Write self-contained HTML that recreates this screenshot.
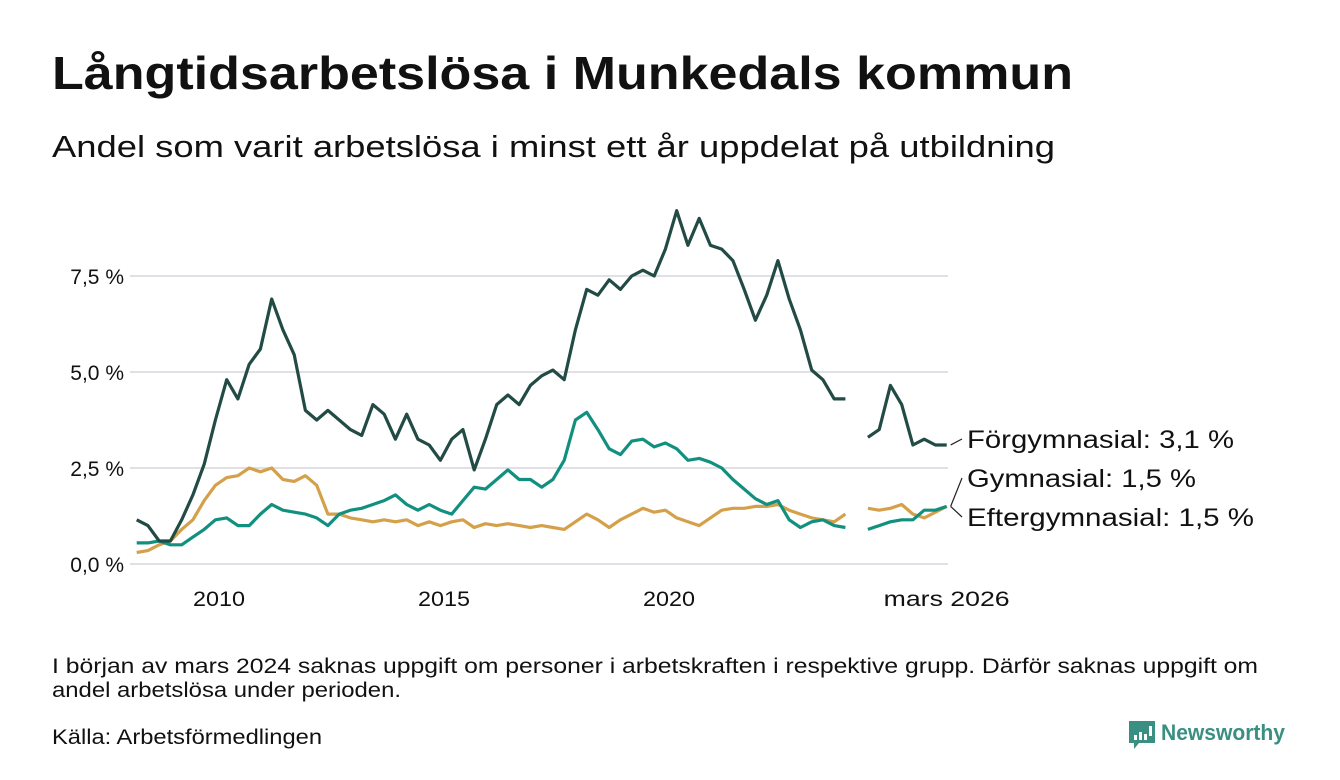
<!DOCTYPE html>
<html><head><meta charset="utf-8"><style>
body{margin:0;background:#fff;width:1340px;height:780px;overflow:hidden;font-family:"Liberation Sans",sans-serif;color:#111}
svg{position:absolute;left:0;top:0}
</style></head><body>
<svg id="c" width="1340" height="780">
<text x="52" y="89" font-size="46" font-weight="bold" fill="#111" textLength="1021" lengthAdjust="spacingAndGlyphs">Långtidsarbetslösa i Munkedals kommun</text>
<text x="52" y="157" font-size="31" fill="#111" textLength="1003" lengthAdjust="spacingAndGlyphs">Andel som varit arbetslösa i minst ett år uppdelat på utbildning</text>
<text x="52" y="673" font-size="21" fill="#111" textLength="1206" lengthAdjust="spacingAndGlyphs">I början av mars 2024 saknas uppgift om personer i arbetskraften i respektive grupp. Därför saknas uppgift om</text>
<text x="52" y="697" font-size="21" fill="#111" textLength="349" lengthAdjust="spacingAndGlyphs">andel arbetslösa under perioden.</text>
<text x="52" y="744" font-size="21" fill="#111" textLength="270" lengthAdjust="spacingAndGlyphs">Källa: Arbetsförmedlingen</text>
<g>
<path d="M1129 721h26v22h-16l-5 6v-6h-5z" fill="#3a8f83"/>
<rect x="1134" y="735" width="3" height="5" fill="#fff"/><rect x="1139" y="732" width="3" height="8" fill="#fff"/><rect x="1144" y="734" width="3" height="6" fill="#fff"/><rect x="1149" y="726" width="3" height="10" fill="#fff"/>
<text x="1161" y="740" font-size="22" font-weight="bold" fill="#3a8f83" textLength="124" lengthAdjust="spacingAndGlyphs">Newsworthy</text>
</g>
<g id="grid"></g><g id="lines"></g><g id="labels"></g>
</svg>
<script>
const yTicks=[0,2.5,5,7.5];
const yTickLabels=["0,0 %","2,5 %","5,0 %","7,5 %"];
const xTicks=[2010,2015,2020];
const xTickLabels=["2010","2015","2020"];
const startYear=2008.17, step=0.25;
const forgym=[1.15,1.0,0.6,0.6,1.15,1.8,2.6,3.75,4.8,4.3,5.2,5.6,6.9,6.1,5.45,4.0,3.75,4.0,3.75,3.5,3.35,4.15,3.9,3.25,3.9,3.25,3.1,2.7,3.25,3.5,2.45,3.25,4.15,4.4,4.15,4.65,4.9,5.05,4.8,6.1,7.15,7.0,7.4,7.15,7.5,7.65,7.5,8.2,9.2,8.3,9.0,8.3,8.2,7.9,7.15,6.35,7.0,7.9,6.9,6.1,5.05,4.8,4.3,4.3,null,3.3,3.5,4.65,4.15,3.1,3.25,3.1,3.1];
const gym=[0.55,0.55,0.6,0.5,0.5,0.7,0.9,1.15,1.2,1.0,1.0,1.3,1.55,1.4,1.35,1.3,1.2,1.0,1.3,1.4,1.45,1.55,1.65,1.8,1.55,1.4,1.55,1.4,1.3,1.65,2.0,1.95,2.2,2.45,2.2,2.2,2.0,2.2,2.7,3.75,3.95,3.5,3.0,2.85,3.2,3.25,3.05,3.15,3.0,2.7,2.75,2.65,2.5,2.2,1.95,1.7,1.55,1.65,1.15,0.95,1.1,1.15,1.0,0.95,null,0.9,1.0,1.1,1.15,1.15,1.4,1.4,1.5];
const eftergym=[0.3,0.35,0.5,0.6,0.9,1.15,1.65,2.05,2.25,2.3,2.5,2.4,2.5,2.2,2.15,2.3,2.05,1.3,1.3,1.2,1.15,1.1,1.15,1.1,1.15,1.0,1.1,1.0,1.1,1.15,0.95,1.05,1.0,1.05,1.0,0.95,1.0,0.95,0.9,1.1,1.3,1.15,0.95,1.15,1.3,1.45,1.35,1.4,1.2,1.1,1.0,1.2,1.4,1.45,1.45,1.5,1.5,1.55,1.4,1.3,1.2,1.15,1.1,1.3,null,1.45,1.4,1.45,1.55,1.3,1.2,1.35,1.5];
const seriesNames=["Förgymnasial: 3,1 %","Gymnasial: 1,5 %","Eftergymnasial: 1,5 %"];
const X=t=>219+(t-2010)*45;
const Y=v=>564-v*38.4;
const NS="http://www.w3.org/2000/svg";
function mk(tag,attrs,parent){const e=document.createElementNS(NS,tag);for(const k in attrs)e.setAttribute(k,attrs[k]);parent.appendChild(e);return e;}
const grid=document.getElementById('grid'),lines=document.getElementById('lines'),labels=document.getElementById('labels');
yTicks.forEach((v,i)=>{
 const l=mk('line',{x1:130,x2:948,y1:Y(v),y2:Y(v),stroke:'#e1e0e6','stroke-width':2},grid);
 
 
 const t=mk('text',{x:124,y:Y(v)+8,'text-anchor':'end','font-size':21,fill:'#111'},grid);
 t.textContent=yTickLabels[i];
 
 
});
xTicks.forEach((v,i)=>{
 const t=mk('text',{x:X(v),y:606,'text-anchor':'middle','font-size':21,fill:'#111',textLength:52,lengthAdjust:'spacingAndGlyphs'},grid);
 t.textContent=xTickLabels[i];
 
 
});
const endT=startYear+step*(forgym.length-1);
const et=mk('text',{x:X(endT),y:606,'text-anchor':'middle','font-size':21,fill:'#111',textLength:126,lengthAdjust:'spacingAndGlyphs'},grid);
et.textContent="mars 2026";


function draw(arr,color,name){
 let d='',pen=false;
 arr.forEach((v,i)=>{if(v===null){pen=false;return;}d+=(pen?'L':'M')+X(startYear+i*step).toFixed(1)+' '+Y(v).toFixed(1);pen=true;});
 const p=mk('path',{d:d,fill:'none',stroke:color,'stroke-width':3.2,'stroke-linejoin':'round'},lines);
 
 
}
draw(eftergym,'#d5a04a','line-eftergymnasial');
draw(gym,'#12907f','line-gymnasial');
draw(forgym,'#214b44','line-forgymnasial');
const ex=X(endT);
const lab=[[forgym,448,'label-forgymnasial',267],[gym,487,'label-gymnasial',229],[eftergym,526,'label-eftergymnasial',287]];
lab.forEach((L,i)=>{
 const v=L[0][L[0].length-1];
 const ln=mk('line',{x1:ex+4,y1:Y(v),x2:962,y2:L[1]-9,stroke:'#222','stroke-width':1.2},labels);
 
 
 const t=mk('text',{x:967,y:L[1],'font-size':25,fill:'#111',textLength:L[3],lengthAdjust:'spacingAndGlyphs'},labels);
 t.textContent=seriesNames[i];
 
 
});
</script>
</body></html>
